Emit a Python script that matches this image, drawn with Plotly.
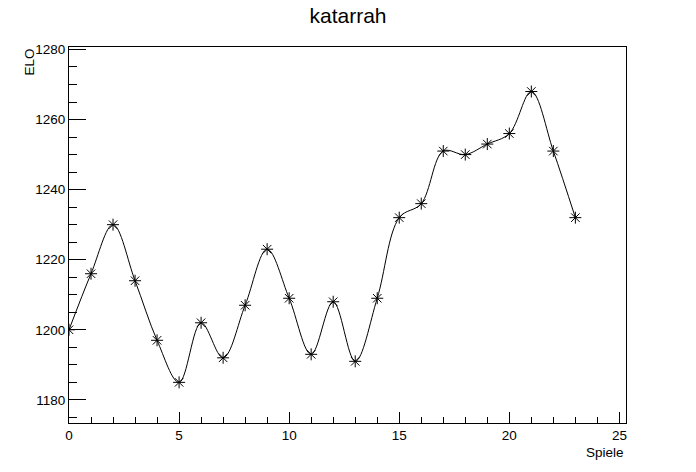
import plotly.graph_objects as go

spiele = list(range(24))
elo = [1200, 1216, 1230, 1214, 1197, 1185, 1202, 1192, 1207, 1223, 1209, 1193,
       1208, 1191, 1209, 1232, 1236, 1251, 1250, 1253, 1256, 1268, 1251, 1232]
title_text = "katarrah"
x_title = "Spiele"
y_title = "ELO"

FONT = "Liberation Sans, Arial, Helvetica, sans-serif"

fig = go.Figure()
fig.add_trace(go.Scatter(
    x=spiele, y=elo, mode="lines+markers",
    line=dict(color="black", width=1, shape="spline", smoothing=1.0),
    marker=dict(symbol="asterisk-open", size=10, color="black",
                line=dict(color="black", width=1)),
    showlegend=False,
))

fig.update_layout(
    width=696, height=472,
    margin=dict(l=69, r=70, t=47, b=49),
    paper_bgcolor="white", plot_bgcolor="white",
    font=dict(family=FONT, color="black", size=13.5),
    title=dict(text=title_text, x=0.5, xref="container", xanchor="center",
               y=1 - 16/472, yref="container", yanchor="middle",
               pad=dict(t=0, b=0, l=0, r=0),
               font=dict(size=21, family=FONT, color="black")),
    xaxis=dict(range=[0, 25.3], tickmode="linear", tick0=0, dtick=5,
               ticks="inside", ticklen=11, tickwidth=1, tickcolor="black",
               showline=True, linecolor="black", linewidth=1, mirror=True,
               showgrid=False, zeroline=False,
               tickfont=dict(size=13.5, family=FONT, color="black"),
               minor=dict(dtick=1, tick0=0, ticks="inside", ticklen=6,
                          tickcolor="black", tickwidth=1, showgrid=False)),
    yaxis=dict(range=[1173.4, 1280.7], tickmode="linear", tick0=1180, dtick=20,
               ticks="inside", ticklen=17, tickwidth=1, tickcolor="black",
               showline=True, linecolor="black", linewidth=1, mirror=True,
               showgrid=False, zeroline=False,
               tickfont=dict(size=13.5, family=FONT, color="black"),
               minor=dict(dtick=5, tick0=1180, ticks="inside", ticklen=8,
                          tickcolor="black", tickwidth=1, showgrid=False)),
    annotations=[
        dict(text=x_title, xref="paper", yref="paper", x=1, y=-29/376,
             xanchor="right", yanchor="middle", showarrow=False,
             font=dict(size=13.5, family=FONT, color="black")),
        dict(text=y_title, xref="paper", yref="paper", x=-40/557, y=1.0,
             xanchor="center", yanchor="top", textangle=-90, showarrow=False,
             font=dict(size=13.5, family=FONT, color="black")),
    ],
)

fig.write_html("out.html", config={"displayModeBar": False},
               post_script="document.body.style.margin='0';document.body.style.padding='0';")
